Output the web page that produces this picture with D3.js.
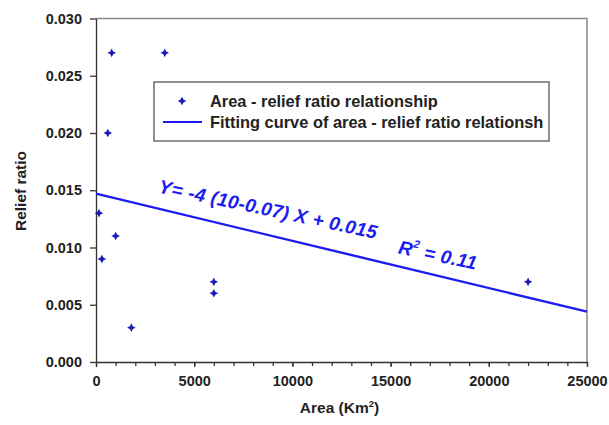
<!DOCTYPE html>
<html>
  <head>
    <meta charset="utf-8">
    <title>Area - relief ratio</title>
    <script src="https://d3js.org/d3.v7.min.js"></script>
    <style>
      body { margin: 0; background: #fff; }
      svg { font-family: "Liberation Sans", Arial, sans-serif; }
      .tick text { font-size: 14.5px; font-weight: bold; fill: #222; }
      .axis path, .axis line { stroke: #333; stroke-width: 1.3; }
    </style>
  </head>
  <body>
    <svg id="svg" width="609" height="425"></svg>
    <script>
      // data
      var areas = [150, 300, 600, 800, 1000, 1800, 3500, 6000, 6000, 22000];
      var ratios = [0.013, 0.009, 0.020, 0.027, 0.011, 0.003, 0.027, 0.007, 0.006, 0.007];
      var fitX = [0, 25000];
      var fitY = [0.0147, 0.0044];
      var xTicks = [0, 5000, 10000, 15000, 20000, 25000];
      var yTicks = [0, 0.005, 0.010, 0.015, 0.020, 0.025, 0.030];
      var legendLabels = ["Area - relief ratio relationship", "Fitting curve of area - relief ratio relationsh"];

      var svg = d3.select("#svg");
      var pLeft = 96, pRight = 587, pTop = 18.5, pBottom = 362;
      var blue = "#1c1cf0", dotBlue = "#1a1ab8";

      var x = d3.scaleLinear().domain([0, 25000]).range([pLeft, pRight]);
      var y = d3.scaleLinear().domain([0, 0.03]).range([pBottom, pTop]);

      // frame top/right
      svg.append("path")
        .attr("d", "M" + pLeft + "," + pTop + "H" + pRight + "V" + pBottom)
        .attr("fill", "none").attr("stroke", "#8a8a8a").attr("stroke-width", 1.5);

      // minor x ticks
      svg.append("g")
        .attr("class", "axis")
        .attr("transform", "translate(0," + pBottom + ")")
        .call(d3.axisBottom(x).tickValues(d3.range(0, 25001, 1000)).tickSize(4).tickFormat(""))
        .call(function(g) { g.select(".domain").remove(); });
      svg.append("g")
        .attr("class", "axis")
        .attr("transform", "translate(0," + pBottom + ")")
        .call(d3.axisBottom(x).tickValues(xTicks).tickSize(5).tickSizeOuter(0).tickPadding(9).tickFormat(d3.format("d")));
      svg.append("g")
        .attr("class", "axis")
        .attr("transform", "translate(" + pLeft + ",0)")
        .call(d3.axisLeft(y).tickValues(yTicks).tickSize(6).tickSizeOuter(0).tickPadding(8).tickFormat(d3.format(".3f")));

      // axis titles
      var xt = svg.append("text")
        .attr("x", (pLeft + pRight) / 2 - 2).attr("y", 413)
        .attr("text-anchor", "middle").attr("font-size", 15.5).attr("font-weight", "bold").attr("fill", "#222");
      xt.append("tspan").text("Area (Km");
      xt.append("tspan").text("2").attr("font-size", 9.5).attr("dy", -6);
      xt.append("tspan").text(")").attr("dy", 6);
      svg.append("text")
        .attr("transform", "translate(26,191) rotate(-90)")
        .attr("text-anchor", "middle").attr("font-size", 15.5).attr("font-weight", "bold").attr("fill", "#222")
        .text("Relief ratio");

      // fit line
      var line = d3.line().x(function(d) { return x(d[0]); }).y(function(d) { return y(d[1]); });
      svg.append("path")
        .datum(d3.zip(fitX, fitY))
        .attr("d", line)
        .attr("fill", "none").attr("stroke", blue).attr("stroke-width", 2.4);

      // markers: small four-pointed stars
      function star(r) {
        var ri = r * 0.34;
        return "M0," + (-r) + "L" + ri + "," + (-ri) + "L" + r + ",0L" + ri + "," + ri +
          "L0," + r + "L" + (-ri) + "," + ri + "L" + (-r) + ",0L" + (-ri) + "," + (-ri) + "Z";
      }
      svg.append("g").selectAll("path")
        .data(d3.zip(areas, ratios))
        .enter().append("path")
          .attr("transform", function(d) { return "translate(" + x(d[0]) + "," + y(d[1]) + ")"; })
          .attr("d", star(4.3))
          .attr("fill", dotBlue);

      // equation annotation along the line
      var angle = Math.atan2(y(fitY[1]) - y(fitY[0]), x(fitX[1]) - x(fitX[0])) * 180 / Math.PI;
      function note(xv, yv) {
        return svg.append("text")
          .attr("transform", "translate(" + x(xv) + "," + y(yv) + ") rotate(" + (angle - 1.5) + ")")
          .attr("font-size", 19).attr("font-weight", "bold").attr("font-style", "italic")
          .attr("letter-spacing", 0.3).attr("fill", blue);
      }
      note(3150, 0.0148).text("Y= -4 (10-0.07) X + 0.015");
      var r2 = note(15350, 0.0095);
      r2.append("tspan").text("R");
      r2.append("tspan").text("2").attr("font-size", 11).attr("dy", -9);
      r2.append("tspan").text(" = 0.11").attr("dy", 9);

      // legend
      var legend = svg.append("g").attr("transform", "translate(154,82)");
      legend.append("rect")
        .attr("width", 395).attr("height", 59)
        .attr("fill", "#fff").attr("stroke", "#555").attr("stroke-width", 1.3);
      legend.append("path").attr("d", star(4.3)).attr("transform", "translate(28,19)").attr("fill", dotBlue);
      legend.append("line").attr("x1", 9).attr("x2", 48).attr("y1", 40).attr("y2", 40)
        .attr("stroke", blue).attr("stroke-width", 2);
      legend.selectAll(".lab")
        .data(legendLabels)
        .enter().append("text")
          .attr("x", 56).attr("y", function(d, i) { return 25 + i * 21; })
          .attr("font-size", 16.4).attr("font-weight", "bold").attr("fill", "#222")
          .text(function(d) { return d; });
    </script>
  </body>
</html>
